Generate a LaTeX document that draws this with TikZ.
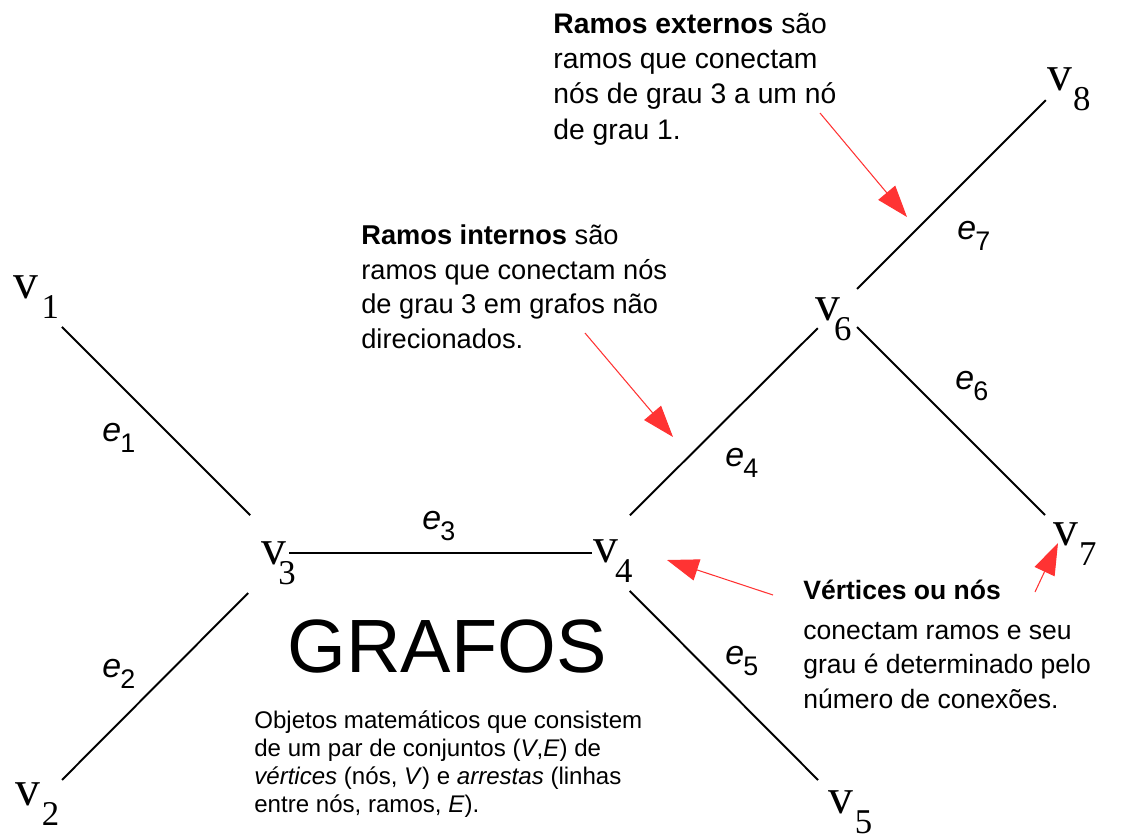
\documentclass[tikz,border=0pt]{standalone}
\usepackage{fontspec}
\setmainfont{Liberation Sans}
\newfontfamily\vfont{Liberation Serif}
\usepackage{tikz}
\usetikzlibrary{arrows.meta, calc}
\definecolor{note_red}{RGB}{255,51,51}
\newcommand{\vlab}[2][1pt]{v\kern#1\raisebox{-11.9pt}{\fontsize{19.8}{20}\selectfont #2}}
\newcommand{\elab}[1]{\textit{e}\kern-0.5pt\raisebox{-6.8pt}{\fontsize{15.3}{16}\selectfont #1}}
\tikzset{
    vert_lbl/.style={
        anchor=base west, inner sep=0pt,
        font=\vfont\fontsize{28.3}{30}\selectfont
    },
    edge_lbl/.style={
        anchor=base west, inner sep=0pt,
        font=\fontsize{19.3}{20}\selectfont
    },
    graph_edge/.style={
        draw=black, line width=1.1pt
    },
    note_arrow/.style={
        -{Triangle[length=18pt, width=12.5pt]}, draw=note_red, line width=0.6pt
    },
    note_txt/.style={
        anchor=base west, inner sep=0pt, align=left
    }
}

\begin{document}
\begin{tikzpicture}[x=0.02cm, y=-0.02cm]
    \useasboundingbox (0,0) rectangle (1134,836);

    % Vertices
    \coordinate (v1) at (40,305);
    \coordinate (v2) at (44,798);
    \coordinate (v3) at (288,553);
    \coordinate (v4) at (592,553);
    \coordinate (v5) at (835,797);
    \coordinate (v6) at (838,308);
    \coordinate (v7) at (1062,532);
    \coordinate (v8) at (1060,86);

    \node[vert_lbl] (lv1) at (13,298) {\vlab[2pt]{1}};
    \node[vert_lbl] (lv2) at (15,805) {\vlab[1pt]{2}};
    \node[vert_lbl] (lv3) at (261,564) {\vlab[-4.5pt]{3}};
    \node[vert_lbl] (lv4) at (593,562) {\vlab[-1.7pt]{4}};
    \node[vert_lbl] (lv5) at (828,813) {\vlab[1pt]{5}};
    \node[vert_lbl] (lv6) at (815,320) {\vlab[-3.4pt]{6}};
    \node[vert_lbl] (lv7) at (1053,545) {\vlab[0.5pt]{7}};
    \node[vert_lbl] (lv8) at (1047,90) {\vlab[0.5pt]{8}};

    % Edges
    \draw[graph_edge, shorten <=0.62cm, shorten >=1.07cm] (v1) -- (v3);
    \draw[graph_edge, shorten <=1.13cm, shorten >=0.51cm] (v3) -- (v2);
    \draw[graph_edge, shorten <=0.02cm] (v3) -- (v4);
    \draw[graph_edge, shorten <=1.07cm, shorten >=0.57cm] (v4) -- (v6);
    \draw[graph_edge, shorten <=1.07cm, shorten >=0.48cm] (v4) -- (v5);
    \draw[graph_edge, shorten <=0.54cm, shorten >=0.48cm] (v6) -- (v7);
    \draw[graph_edge, shorten <=0.54cm, shorten >=0.40cm] (v6) -- (v8);

    \node[edge_lbl] (le1) at (102,441) {\elab{1}};
    \node[edge_lbl] (le2) at (102,677) {\elab{2}};
    \node[edge_lbl] (le3) at (422,529) {\elab{3}};
    \node[edge_lbl] (le4) at (725,466) {\elab{4}};
    \node[edge_lbl] (le5) at (725,664) {\elab{5}};
    \node[edge_lbl] (le6) at (955,389) {\elab{6}};
    \node[edge_lbl] (le7) at (957,239) {\elab{7}};

    % Title and notes (base = last line)
    \node[anchor=base, inner sep=0pt, font=\fontsize{43}{46}\selectfont] (title) at (447,672) {GRAFOS};
    \node[note_txt, font=\fontsize{13.7}{15.9}\selectfont] (defn) at (254,812)
        {Objetos matemáticos que consistem\\de um par de conjuntos (\textit{V},\textit{E}) de\\\textit{vértices} (nós, \textit{V}) e \textit{arrestas} (linhas\\entre nós, ramos, \textit{E}).};
    \node[note_txt, font=\fontsize{16.1}{20.1}\selectfont] (ext) at (553,139)
        {\textbf{Ramos externos} são\\ramos que conectam\\nós de grau 3 a um nó\\de grau 1.};
    \node[note_txt, font=\fontsize{15.5}{19.6}\selectfont] (int) at (361,348)
        {\textbf{Ramos internos} são\\ramos que conectam nós\\de grau 3 em grafos não\\direcionados.};
    \node[note_txt, font=\fontsize{15.1}{19.6}\selectfont] (vtx) at (803,708)
        {\textbf{Vértices ou nós}\\[2.8pt]conectam ramos e seu\\grau é determinado pelo\\número de conexões.};

    % Note arrows
    \coordinate (ext_tail) at (820,113);
    \coordinate (ext_head) at (907,217);
    \coordinate (int_tail) at (585,333);
    \coordinate (int_head) at (673,437);
    \coordinate (vtx_tail_a) at (773,595);
    \coordinate (vtx_head_a) at (667,560);
    \coordinate (vtx_tail_b) at (1035,592);
    \coordinate (vtx_head_b) at (1058,543);
    \draw[note_arrow] (ext_tail) -- (ext_head);
    \draw[note_arrow] (int_tail) -- (int_head);
    \draw[note_arrow] (vtx_tail_a) -- (vtx_head_a);
    \draw[note_arrow] (vtx_tail_b) -- (vtx_head_b);
\end{tikzpicture}
\end{document}
